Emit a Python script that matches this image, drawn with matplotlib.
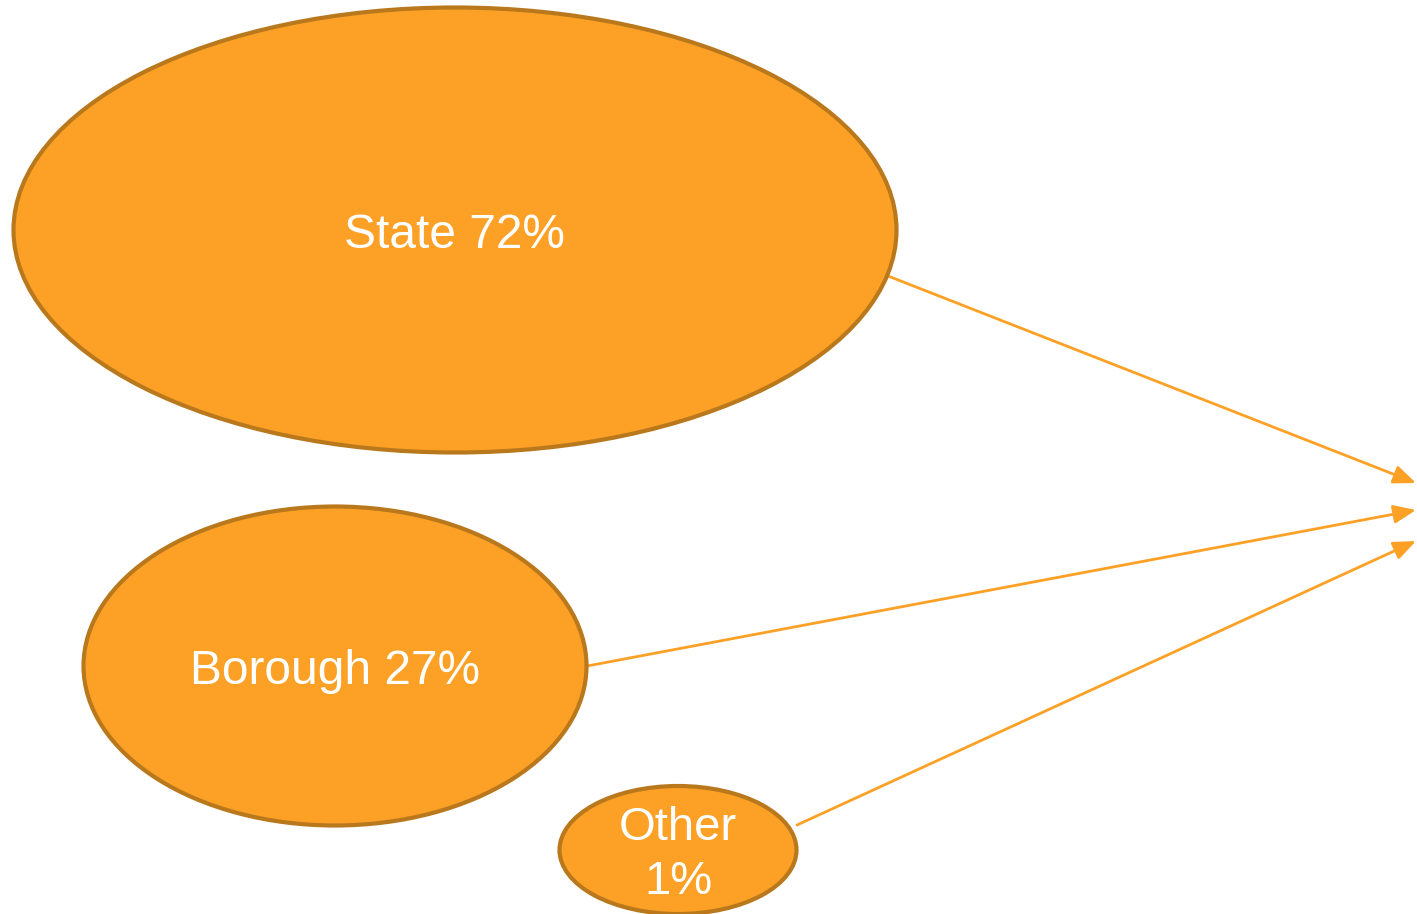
import matplotlib
matplotlib.use("Agg")
import matplotlib.pyplot as plt
from matplotlib.patches import Ellipse, FancyArrowPatch

# data
categories = ["State", "Borough", "Other"]
shares = [72, 27, 1]

# layout (pixel space)
centers = [(455, 230), (335, 666), (678, 850)]
sizes = [(883, 445), (503, 319), (237, 128)]
arrow_starts = [(888, 276), (587, 666), (797, 825)]
arrow_ends = [(1416, 483), (1416, 510), (1416, 541)]

fill = "#FCA126"
edge = "#BA781C"

W, H = 1417, 914
fig = plt.figure(figsize=(W / 100, H / 100), dpi=100)
ax = fig.add_axes([0, 0, 1, 1])
ax.set_xlim(0, W)
ax.set_ylim(H, 0)
ax.axis("off")

for i, cat in enumerate(categories):
    e = Ellipse(centers[i], sizes[i][0], sizes[i][1], facecolor=fill,
                edgecolor=edge, linewidth=3, zorder=2)
    ax.add_patch(e)
    if cat != "Other":
        ax.text(centers[i][0], centers[i][1] + 5, f"{cat} {shares[i]}%",
                ha="center", va="center", color="white", fontsize=34.5,
                family=["Liberation Sans", "DejaVu Sans"], zorder=3)
    else:
        ax.text(centers[i][0], centers[i][1] + 5, f"{cat}\n{shares[i]}%",
                ha="center", va="center", color="white", fontsize=34,
                family=["Liberation Sans", "DejaVu Sans"],
                linespacing=1.3, zorder=3)

for s, t in zip(arrow_starts, arrow_ends):
    a = FancyArrowPatch(s, t, arrowstyle="-|>,head_length=0.8,head_width=0.33",
                        mutation_scale=17, color=fill, linewidth=2,
                        shrinkA=0, shrinkB=0, zorder=1)
    ax.add_patch(a)

fig.savefig("out.png", dpi=100)
